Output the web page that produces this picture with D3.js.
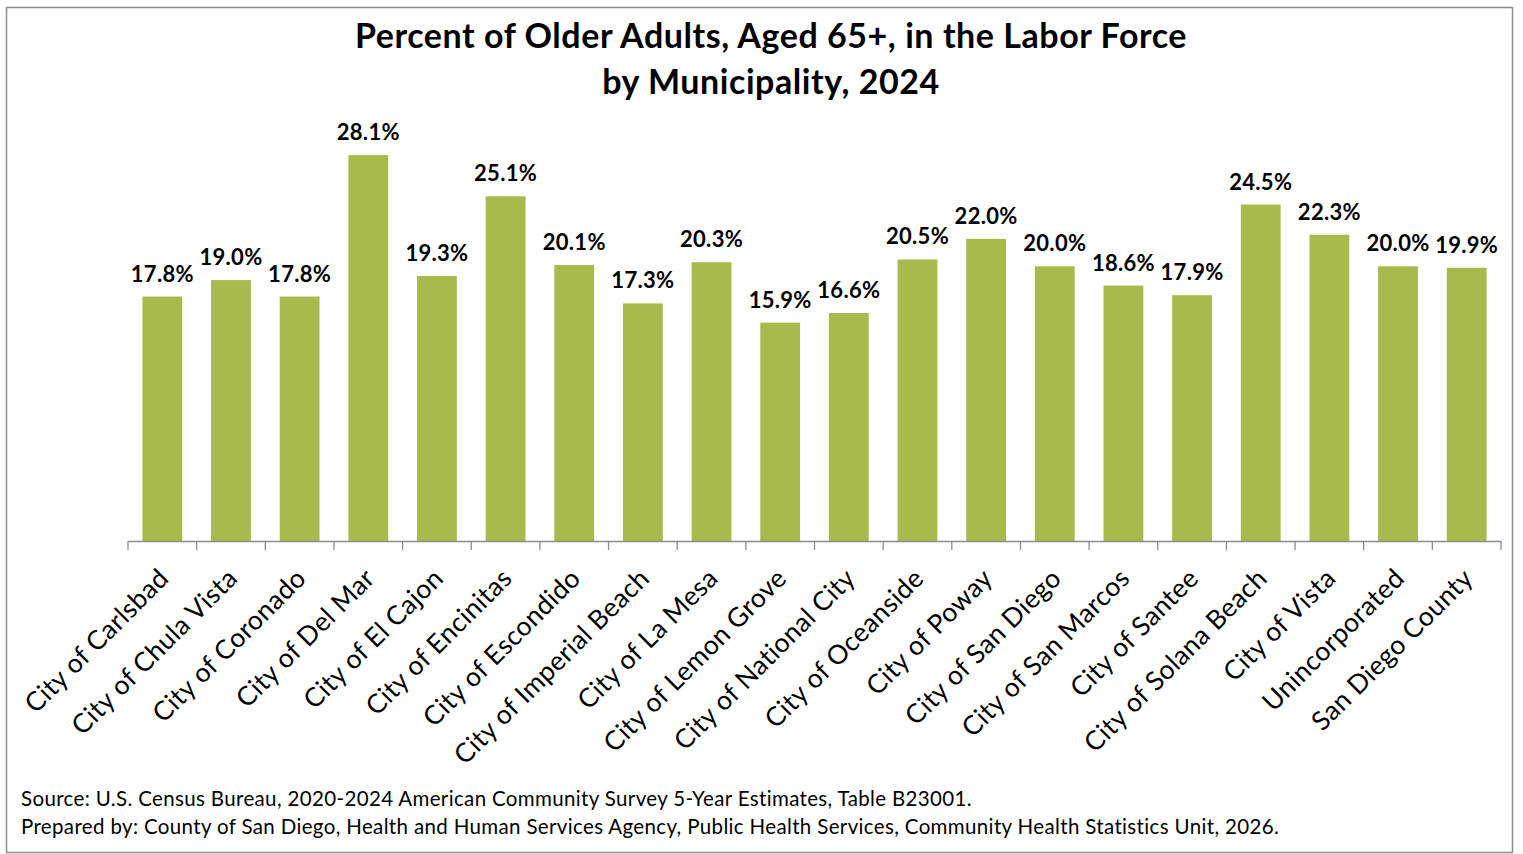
<!DOCTYPE html>
<html>
<head>
<meta charset="utf-8">
<script src="https://cdn.jsdelivr.net/npm/d3@7"></script>
<style>
  body { margin: 0; background: #fff; }
  svg { display: block; font-family: Lato, "Open Sans", sans-serif; }
  .title { font-size: 34px; font-weight: bold; fill: #000; letter-spacing: 0.55px; }
  .val { font-size: 22px; font-weight: bold; fill: #000; letter-spacing: 0.3px; }
  .xlab { font-size: 26.5px; fill: #000; letter-spacing: 0.35px; }
  .source { font-size: 20.5px; fill: #000; letter-spacing: 0.35px; }
</style>
</head>
<body>
<svg width="1523" height="854"></svg>
<script>
// categories + values
const places = [
  'City of Carlsbad', 'City of Chula Vista', 'City of Coronado', 'City of Del Mar',
  'City of El Cajon', 'City of Encinitas', 'City of Escondido', 'City of Imperial Beach',
  'City of La Mesa', 'City of Lemon Grove', 'City of National City', 'City of Oceanside',
  'City of Poway', 'City of San Diego', 'City of San Marcos', 'City of Santee',
  'City of Solana Beach', 'City of Vista', 'Unincorporated', 'San Diego County'
];
const pct = [17.8, 19.0, 17.8, 28.1, 19.3, 25.1, 20.1, 17.3, 20.3, 15.9,
             16.6, 20.5, 22.0, 20.0, 18.6, 17.9, 24.5, 22.3, 20.0, 19.9];
const titleLines = ['Percent of Older Adults, Aged 65+, in the Labor Force', 'by Municipality, 2024'];
const sourceLines = [
  'Source: U.S. Census Bureau, 2020-2024 American Community Survey 5-Year Estimates, Table B23001.',
  'Prepared by: County of San Diego, Health and Human Services Agency, Public Health Services, Community Health Statistics Unit, 2026.'
];

const data = places.map((p, i) => ({ place: p, value: pct[i] }));

const svg = d3.select('svg');

// outer frame
svg.append('rect')
  .attr('x', 6.5).attr('y', 7.5)
  .attr('width', 1506).attr('height', 845)
  .attr('fill', 'none')
  .attr('stroke', '#8c8c8c')
  .attr('stroke-width', 1.5);

const plotLeft = 128, plotRight = 1501, plotTop = 129, plotBottom = 541;

const x = d3.scaleBand()
  .domain(places)
  .range([plotLeft, plotRight])
  .paddingInner(0.42)
  .paddingOuter(0.21);

const y = d3.scaleLinear()
  .domain([0, 30])
  .range([plotBottom, plotTop]);

// bars
svg.append('g').selectAll('rect')
  .data(data)
  .enter()
  .append('rect')
  .attr('x', d => x(d.place))
  .attr('y', d => y(d.value))
  .attr('width', x.bandwidth())
  .attr('height', d => plotBottom - y(d.value))
  .attr('fill', '#a8ba4c');

// value labels
svg.append('g').selectAll('text')
  .data(data)
  .enter()
  .append('text')
  .attr('class', 'val')
  .attr('x', d => x(d.place) + x.bandwidth() / 2)
  .attr('y', d => y(d.value) - 15)
  .attr('text-anchor', 'middle')
  .text(d => d.value.toFixed(1) + '%');

// x axis line + ticks at band edges
const edges = d3.range(places.length + 1).map(i => plotLeft + i * (plotRight - plotLeft) / places.length);
const axis = svg.append('g').attr('stroke', '#8c8c8c').attr('stroke-width', 1.3);
axis.append('line')
  .attr('x1', plotLeft).attr('x2', plotRight)
  .attr('y1', plotBottom + 0.5).attr('y2', plotBottom + 0.5);
axis.selectAll('line.tick')
  .data(edges)
  .enter()
  .append('line')
  .attr('class', 'tick')
  .attr('x1', d => d).attr('x2', d => d)
  .attr('y1', plotBottom).attr('y2', plotBottom + 9);

// rotated category labels
svg.append('g').selectAll('text')
  .data(places)
  .enter()
  .append('text')
  .attr('class', 'xlab')
  .attr('text-anchor', 'end')
  .attr('transform', d => `translate(${x(d) + x.bandwidth() / 2 + 8}, 580) rotate(-45)`)
  .text(d => d);

// title
svg.append('g').selectAll('text')
  .data(titleLines)
  .enter()
  .append('text')
  .attr('class', 'title')
  .attr('x', 771)
  .attr('y', (d, i) => 48 + i * 46)
  .attr('text-anchor', 'middle')
  .text(d => d);

// source notes
svg.append('g').selectAll('text')
  .data(sourceLines)
  .enter()
  .append('text')
  .attr('class', 'source')
  .attr('x', 21)
  .attr('y', (d, i) => 806 + i * 28)
  .text(d => d);
</script>
</body>
</html>
